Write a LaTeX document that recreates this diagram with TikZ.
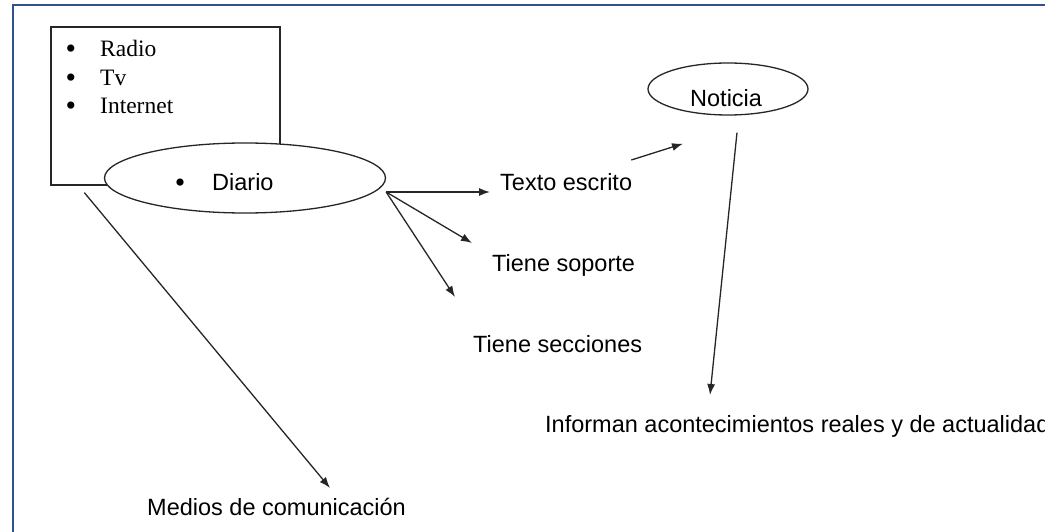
\documentclass[tikz,border=0pt]{standalone}
\usepackage{fontspec}
\setmainfont{Liberation Serif}
\setsansfont{Liberation Sans}
\usetikzlibrary{arrows.meta,shapes.geometric}
\definecolor{marco}{RGB}{47,82,143}
\tikzset{font=\sffamily\fontsize{23.5pt}{28pt}\selectfont}
\tikzset{every node/.append style={inner sep=0pt,text=black}}
\tikzset{txt/.style={anchor=base west}}
\tikzset{roman/.style={txt,font=\rmfamily\fontsize{23.5pt}{28pt}\selectfont}}
\tikzset{bul/.style={anchor=base,font=\rmfamily\fontsize{30pt}{30pt}\selectfont}}
\tikzset{oval/.style={ellipse,draw=black!85,line width=1.3pt,fill=white}}
\tikzset{arr/.style={-{Latex[length=11pt,width=8pt]},line width=1.3pt,black!85}}

\begin{document}
\begin{tikzpicture}[x=1pt,y=-1pt]
  \useasboundingbox (0,0) rectangle (1045,532);
  \clip (0,0) rectangle (1045,532);
  \fill[white] (0,0) rectangle (1045,532);
  \draw[marco,line width=2.5pt] (1045,5) -- (13,5) -- (13,532);

  \node[draw=black!85,line width=1.3pt,minimum width=229pt,minimum height=158pt] (lista) at (165.5,106) {};
  \foreach \medio/\y [count=\i] in {Radio/57,Tv/85.5,Internet/114}
  {
    \node[bul] (b\i) at (71,\y+2) {\textbullet};
    \node[roman] (m\i) at (100,\y) {\medio};
  }

  \node[oval,minimum width=281pt,minimum height=70pt] (diario) at (245,178) {};
  \node[bul] (b4) at (180,193) {\textbullet};
  \node[txt] (diariotxt) at (212,191) {Diario};

  \node[oval,minimum width=160pt,minimum height=52pt] (noticia) at (728,89) {};
  \node[txt] (noticiatxt) at (690,107) {Noticia};

  \node[txt] (texto) at (500,190) {Texto escrito};
  \node[txt] (soporte) at (492,271) {Tiene soporte};
  \node[txt] (secciones) at (473,352) {Tiene secciones};
  \node[txt] (informan) at (545,432) {Informan acontecimientos reales y de actualidad};
  \node[txt] (medios) at (147,515) {Medios de comunicación};

  \draw[arr] ([shift={(34,7)}]lista.south west) -- ([shift={(183,-27)}]medios.base west);
  \draw[arr] ([shift={(0,14)}]diario.east) -- ([shift={(-10,2)}]texto.base west);
  \draw[arr] ([shift={(0,14)}]diario.east) -- ([shift={(-20,-28)}]soporte.base west);
  \draw[arr] ([shift={(0,14)}]diario.east) -- ([shift={(-18,-55)}]secciones.base west);
  \draw[arr] ([shift={(-1,-30)}]texto.base east) -- ([shift={(-45,28)}]noticia.south);
  \draw[arr] ([shift={(9,17)}]noticia.south) -- ([shift={(165,-37)}]informan.base west);
\end{tikzpicture}
\end{document}
